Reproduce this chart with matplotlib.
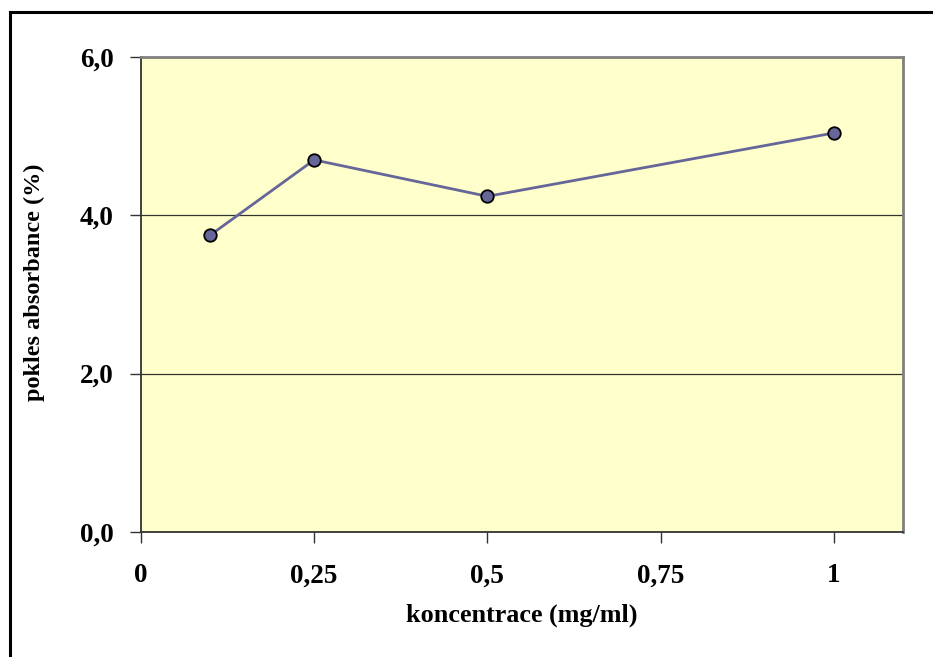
import matplotlib
matplotlib.use("Agg")
import matplotlib.pyplot as plt

# Measured decrease in absorbance at each concentration
concentration = [0.1, 0.25, 0.5, 1.0]
decrease_pct = [3.75, 4.70, 4.24, 5.04]

x_ticks = [0, 0.25, 0.5, 0.75, 1.0]
x_tick_labels = ["0", "0,25", "0,5", "0,75", "1"]
y_ticks = [0, 2, 4, 6]
y_tick_labels = ["0,0", "2,0", "4,0", "6,0"]

plt.rcParams["font.family"] = ["Liberation Serif", "DejaVu Serif"]
plt.rcParams["font.weight"] = "bold"

fig = plt.figure(figsize=(9.33, 6.57), dpi=100)
fig.patch.set_facecolor("white")

# outer chart frame (only top and left edges fall inside the image)
fig.add_artist(plt.Line2D([10 / 933, 10 / 933], [0, 1 - 12 / 657], color="black", lw=2.2,
                          transform=fig.transFigure))
fig.add_artist(plt.Line2D([10 / 933, 1], [1 - 12 / 657, 1 - 12 / 657], color="black", lw=2.2,
                          transform=fig.transFigure))

ax = fig.add_axes([141 / 933, 1 - 532 / 657, (903 - 141) / 933, (532 - 57) / 657])
ax.set_facecolor("#FFFFCC")

ax.set_xlim(0, 1.1)
ax.set_ylim(0, 6)

for y in y_ticks[1:-1]:
    ax.axhline(y, color="#333333", lw=0.9, zorder=1)

ax.plot(concentration, decrease_pct, color="#666699", lw=2, marker="o", markersize=9,
        markerfacecolor="#666699", markeredgecolor="black", markeredgewidth=1.3, zorder=3,
        clip_on=False)

for side in ["top", "right"]:
    ax.spines[side].set_color("#808080")
    ax.spines[side].set_linewidth(2)
for side in ["left", "bottom"]:
    ax.spines[side].set_color("#333333")
    ax.spines[side].set_linewidth(1.3)

ax.set_xticks(x_ticks)
ax.set_xticklabels(x_tick_labels)
ax.set_yticks(y_ticks)
ax.set_yticklabels(y_tick_labels)
ax.tick_params(axis="both", direction="out", length=8, width=1, color="#333333",
               labelsize=19.5)
ax.tick_params(axis="x", pad=14.5)
ax.tick_params(axis="y", pad=11.5)
for lbl in ax.get_xticklabels() + ax.get_yticklabels():
    lbl.set_fontweight("bold")

ax.set_xlabel("koncentrace (mg/ml)", fontsize=18.8, fontweight="bold")
ax.set_ylabel("pokles absorbance (%)", fontsize=17.5, fontweight="bold")
ax.xaxis.set_label_coords(0.5, -0.151)
ax.yaxis.set_label_coords(-0.126, 0.525)

fig.savefig("out.png", dpi=100)
